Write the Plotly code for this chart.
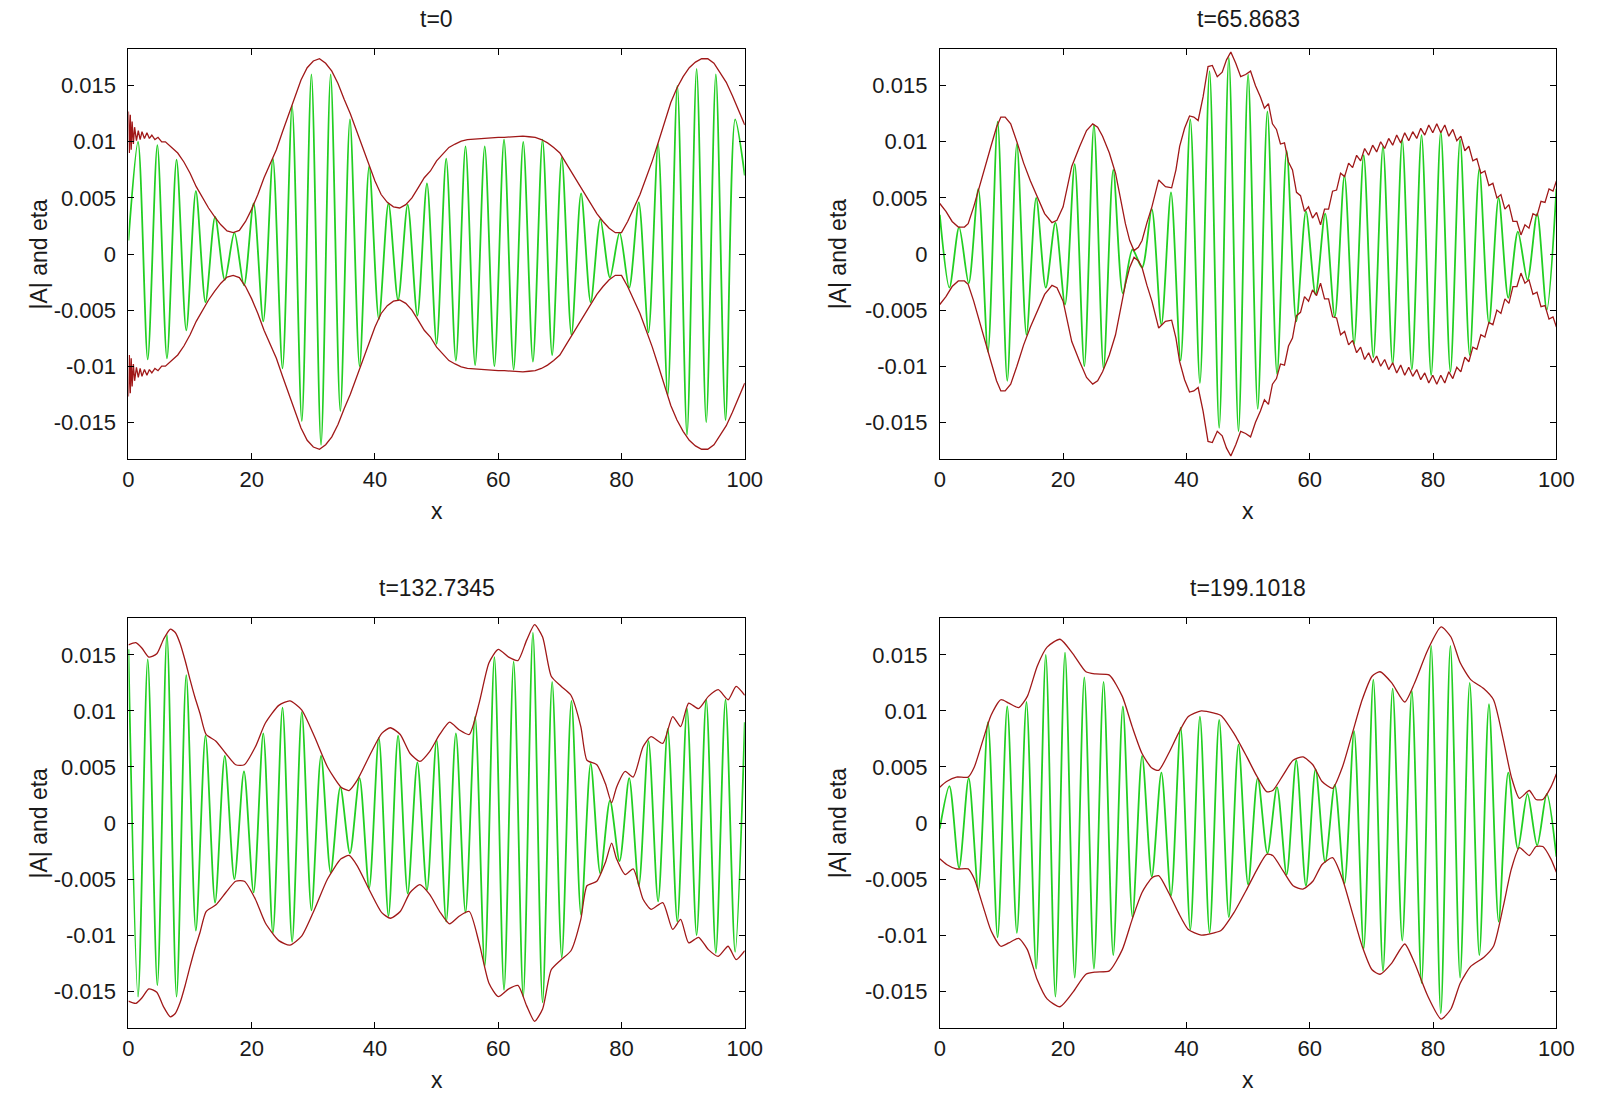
import numpy as np
import plotly.graph_objects as go

# ---- panel titles and tick labels ----
titles = ["t=0", "t=65.8683", "t=132.7345", "t=199.1018"]
x_ticks = [0, 20, 40, 60, 80, 100]
y_ticks = [0.015, 0.01, 0.005, 0, -0.005, -0.01, -0.015]
y_tick_text = ["0.015", "0.01", "0.005", "0", "-0.005", "-0.01", "-0.015"]

# ---- eta: crest / trough positions of the carrier and their heights (x 1e-3) ----
crest_x = [0, 1.56, 3.13, 4.69, 6.25, 7.81, 9.38, 10.94, 12.5, 14.06, 15.63, 17.19, 18.75,
           20.31, 21.88, 23.44, 25, 26.56, 28.13, 29.69, 31.25, 32.81, 34.38, 35.94, 37.5,
           39.06, 40.63, 42.19, 43.75, 45.31, 46.88, 48.44, 50, 51.56, 53.13, 54.69, 56.25,
           57.81, 59.38, 60.94, 62.5, 64.06, 65.63, 67.19, 68.75, 70.31, 71.88, 73.44, 75,
           76.56, 78.13, 79.69, 81.25, 82.81, 84.38, 85.94, 87.5, 89.06, 90.63, 92.19, 93.75,
           95.31, 96.88, 98.44, 100]

eta_t0 = [1.2, 10.0, -9.4, 9.7, -9.3, 8.4, -6.8, 5.6, -4.3, 3.3, -2.3, 1.9, -2.8, 4.5, -6.0,
          8.5, -10.2, 13.2, -14.9, 16.0, -17.0, 16.0, -14.0, 12.0, -10.0, 7.8, -5.8, 4.5, -4.1,
          4.4, -5.5, 6.3, -8.0, 8.5, -9.5, 9.6, -9.9, 9.6, -10.0, 10.2, -10.3, 10.0, -9.6, 10.2,
          -9.0, 8.6, -7.2, 5.4, -4.3, 3.1, -2.1, 1.9, -3.0, 4.6, -7.0, 9.8, -12.6, 15.0, -16.1,
          16.5, -15.0, 16.0, -14.8, 12.0, 7.0]

eta_t65 = [3.5, -3.0, 2.4, -2.6, 5.8, -8.7, 11.8, -11.3, 9.8, -7.2, 5.0, -3.0, 2.8, -4.5, 8.0,
           -10.0, 11.5, -10.2, 7.5, -3.5, 0.4, -1.2, 4.0, -6.3, 5.5, -9.5, 12.0, -11.5, 16.3,
           -15.5, 17.5, -15.8, 16.0, -13.8, 12.7, -10.7, 9.2, -6.0, 3.8, -3.6, 3.6, -5.6, 7.0,
           -8.0, 8.8, -9.2, 9.6, -9.8, 10.2, -10.3, 10.6, -10.8, 10.9, -10.5, 10.2, -9.0, 7.6,
           -6.2, 5.0, -3.9, 2.0, -2.3, 3.6, -5.0, 5.8]

eta_t132 = [15.5, -15.5, 14.6, -14.5, 16.8, -15.5, 13.2, -9.6, 7.8, -7.1, 6.0, -5.0, 4.6, -6.2,
            8.0, -9.8, 10.3, -10.6, 9.9, -7.8, 6.0, -4.4, 3.2, -2.7, 4.0, -5.8, 7.6, -8.3, 7.8,
            -6.3, 5.4, -6.0, 7.4, -8.8, 8.0, -8.0, 9.5, -12.8, 14.8, -14.9, 14.4, -15.5, 17.0,
            -16.0, 12.6, -12.0, 10.9, -8.2, 5.3, -4.5, 2.0, -3.4, 4.0, -5.6, 7.3, -7.0, 8.4,
            -8.8, 10.2, -10.0, 11.0, -11.6, 11.0, -11.5, 9.0]

eta_t199 = [-0.5, 3.3, -4.0, 4.0, -6.0, 9.0, -10.2, 10.4, -9.8, 10.8, -13.0, 15.0, -15.5, 15.2,
            -13.8, 13.0, -13.0, 12.6, -11.8, 10.4, -8.4, 6.0, -4.8, 4.5, -6.5, 8.5, -9.5, 9.5,
            -9.8, 9.2, -8.4, 7.0, -5.5, 4.0, -2.7, 3.2, -4.6, 5.6, -5.6, 4.8, -3.5, 3.4, -5.4,
            8.2, -11.2, 12.8, -13.2, 12.0, -10.5, 11.8, -14.3, 15.8, -17.0, 15.8, -13.8, 12.5,
            -11.8, 10.6, -8.8, 4.5, -2.3, 2.6, -2.0, 2.6, -3.0]

# ---- |A|: envelope samples (x 1e-3) ----
amp_t0_x = [0, 0.15, 0.3, 0.45, 0.6, 0.8, 1.0, 1.3, 1.6, 1.9, 2.2, 2.6, 3.0, 3.4, 3.8, 4.3, 4.8,
            5.4, 6, 7, 8, 9, 10, 11, 12, 13, 14, 15, 16, 17, 18, 19, 20, 21, 22, 23, 24, 25, 26,
            27, 28, 29, 30, 31, 32, 33, 34, 35, 36, 37, 38, 39, 40, 41, 42, 43, 44, 45, 46, 47,
            48, 49, 50, 51, 52, 53, 54, 55, 56, 57, 58, 59, 60, 61, 62, 63, 64, 65, 66, 67, 68,
            69, 70, 71, 72, 73, 74, 75, 76, 77, 78, 79, 80, 81, 82, 83, 84, 85, 86, 87, 88, 89,
            90, 91, 92, 93, 94, 95, 96, 97, 98, 99, 100]
amp_t0 = [12.7, 9.0, 12.4, 9.3, 11.8, 9.8, 11.3, 10.1, 11.0, 10.2, 10.9, 10.3, 10.8, 10.3, 10.6,
          10.2, 10.4, 10.0, 10.0, 9.5, 9.0, 8.2, 7.2, 6.0, 5.0, 4.1, 3.3, 2.6, 2.05, 1.9, 2.1,
          2.9, 4.0, 5.3, 6.8, 8.0, 9.3, 10.9, 12.5, 14.0, 15.5, 16.6, 17.2, 17.4, 17.0, 16.3,
          15.2, 13.8, 12.5, 11.0, 9.5, 8.0, 6.5, 5.3, 4.6, 4.2, 4.1, 4.4, 5.0, 5.9, 6.8, 7.4,
          8.3, 8.9, 9.5, 9.8, 10.05, 10.2, 10.25, 10.3, 10.3, 10.35, 10.4, 10.4, 10.45, 10.5,
          10.5, 10.45, 10.4, 10.2, 9.9, 9.5, 9.0, 8.1, 7.2, 6.4, 5.5, 4.6, 3.6, 2.9, 2.3, 1.9,
          1.9, 2.9, 4.1, 5.3, 6.8, 8.3, 10.0, 11.8, 13.5, 14.8, 15.8, 16.6, 17.1, 17.4, 17.4,
          17.0, 16.2, 15.3, 14.1, 12.8, 11.5]

amp_t65_x = [0, 1, 2, 3, 4, 4.6, 5.5, 6.3, 7, 8.3, 9.2, 9.9, 10.6, 11.5, 12.5, 13.6, 14.7, 15.8,
             17, 18.2, 19, 20, 21.4, 22.7, 23.8, 24.8, 25.6, 26.4, 27.5, 28.5, 29.3, 30.1, 30.8,
             31.5, 32.2, 32.8, 33.6, 34.4, 35.5, 36.6, 37.6, 38.3, 38.9, 39.7, 40.5, 41.2, 41.9,
             42.7, 43.5, 44.2, 45, 45.8, 46.5, 47.2, 48, 48.8, 49.6, 50.4, 51.2,
             52.0, 52.65, 53.3, 53.95, 54.6, 55.25, 55.9, 56.55, 57.2, 57.85, 58.5, 59.15, 59.8,
             60.45, 61.1, 61.75, 62.4, 63.05, 63.7, 64.35, 65.0, 65.65, 66.3, 66.95, 67.6, 68.25,
             68.9, 69.55, 70.2, 70.85, 71.5, 72.15, 72.8, 73.45, 74.1, 74.75, 75.4, 76.05, 76.7,
             77.35, 78.0, 78.65, 79.3, 79.95, 80.6, 81.25, 81.9, 82.55, 83.2, 83.85, 84.5, 85.15,
             85.8, 86.45, 87.1, 87.75, 88.4, 89.05, 89.7, 90.35, 91.0, 91.65, 92.3, 92.95, 93.6,
             94.25, 94.9, 95.55, 96.2, 96.85, 97.5, 98.15, 98.8, 99.45, 100]
amp_t65 = [4.5, 3.8, 2.9, 2.4, 2.4, 2.7, 4.2, 5.8, 7.2, 9.6, 11.3, 12.2, 12.2, 11.6, 10.0, 8.1,
           6.5, 5.1, 3.6, 2.8, 3.0, 4.2, 7.8, 9.6, 11.0, 11.6, 11.3, 10.5, 9.0, 7.2, 5.0, 2.7,
           1.2, 0.3, 0.6, 1.2, 2.8, 4.2, 6.6, 6.0, 5.9, 7.5, 9.6, 11.2, 12.3, 12.2, 11.9, 14.0,
           16.7, 16.8, 15.8, 16.2, 17.3, 18.0, 17.0, 15.8, 16.0, 16.3, 15.0,
           14.0, 13.0, 13.4, 11.6, 11.1, 9.8, 9.9, 8.2, 7.5, 5.5, 5.2, 3.8, 4.2, 3.2, 3.7, 2.6,
           4.0, 4.0, 5.6, 5.7, 7.2, 6.9, 8.1, 7.7, 8.8, 8.3, 9.4, 8.8, 9.7, 9.1, 10.0, 9.4, 10.3,
           9.7, 10.6, 9.9, 10.8, 10.1, 10.9, 10.3, 11.2, 10.6, 11.5, 10.8, 11.6, 10.8, 11.5, 10.5,
           11.1, 10.1, 10.5, 9.2, 9.6, 8.3, 8.5, 7.2, 7.4, 6.1, 6.3, 5.0, 5.3, 4.0, 4.4, 2.9, 2.9,
           1.7, 2.6, 2.3, 3.6, 3.4, 4.7, 4.6, 5.8, 5.6, 6.5]

amp_t132_x = [0, 1.2, 2.2, 3.3, 4.6, 5.7, 6.8, 7.6, 8.4, 9.2, 10, 10.8, 11.6, 12.6, 14.2, 15.8,
              17.4, 18.8, 20.6, 22.2, 24.4, 26.2, 28.1, 30.2, 32.3, 34.5, 35.8, 37.1, 39.3, 41.1,
              42.5, 44.1, 45.7, 47.3, 48.9, 50.5, 52.1, 53.7, 55.3, 56.9, 58.5, 60, 61.7, 63.2,
              64.6, 65.9, 67.2, 68.6, 70.2, 71.8, 73.4, 74.4, 76, 77.4, 78.4, 79.2, 80.6, 81.9,
              83.5, 84.8, 86.7, 88.3, 89.6, 90.9, 92.5, 94.1, 95.7, 97.3, 98.6, 100]
amp_t132 = [15.9, 16.1, 15.6, 14.8, 15.1, 16.4, 17.3, 17.0, 16.0, 14.5, 12.8, 11.2, 9.8, 7.9, 7.3,
            6.2, 5.2, 5.2, 6.8, 8.9, 10.5, 10.9, 10.1, 7.7, 5.0, 3.2, 2.9, 3.8, 6.2, 8.0, 8.5,
            7.9, 6.2, 5.5, 6.4, 7.9, 9.0, 8.3, 7.9, 10.7, 14.3, 15.5, 14.8, 14.5, 16.3, 17.7,
            16.6, 13.1, 12.2, 11.4, 8.6, 5.6, 5.2, 3.5, 1.8, 3.2, 4.6, 4.1, 6.8, 7.7, 7.1, 9.5,
            8.6, 10.7, 10.2, 11.3, 11.9, 11.0, 12.2, 11.4]

amp_t199_x = [0, 1.1, 2.7, 4.6, 5.6, 7, 8.3, 9.9, 11.2, 12.8, 14.2, 15.8, 17.4, 19.5, 21.6, 23.7,
              25.3, 27.5, 29.6, 31.2, 32.8, 34.4, 35.5, 37.1, 38.7, 40.3, 42.4, 44.5, 45.6, 47.7,
              49.8, 51.4, 53, 54, 55.7, 57.3, 58.9, 60.5, 62, 63.7, 65.3, 66.9, 68.5, 70.1, 71.4,
              73.3, 75.4, 77, 79.1, 81.3, 82.9, 84.4, 86.1, 88.2, 89.8, 91.4, 92.7, 94, 95.6,
              96.7, 97.8, 99.1, 100]
amp_t199 = [3.2, 3.7, 4.1, 4.1, 5.0, 7.4, 9.6, 11.0, 10.7, 10.3, 11.3, 14.0, 15.7, 16.4, 15.1,
            13.5, 13.3, 13.2, 11.3, 8.6, 6.2, 4.9, 4.7, 6.2, 8.0, 9.5, 10.0, 9.8, 9.6, 8.0, 5.9,
            4.2, 2.8, 2.9, 4.3, 5.6, 5.9, 5.2, 3.7, 3.1, 5.0, 8.0, 11.0, 13.1, 13.5, 12.5, 10.8,
            12.5, 15.4, 17.5, 16.6, 14.3, 12.8, 12.0, 11.0, 7.4, 4.1, 2.2, 2.9, 2.1, 2.1, 3.2,
            4.4]

MILLI = 1e-3
panels = [
    (eta_t0, amp_t0_x, amp_t0, "linear"),
    (eta_t65, amp_t65_x, amp_t65, "linear"),
    (eta_t132, amp_t132_x, amp_t132, "spline"),
    (eta_t199, amp_t199_x, amp_t199, "spline"),
]

# ---- page geometry (pixels of a 1601 x 1094 page) ----
W, H = 1601, 1094
boxes = [(124.3, 750.0, 49.0, 459.0), (948.0, 1574.0, 49.0, 459.0),
         (124.3, 750.0, 618.3, 1027.7), (948.0, 1574.0, 618.3, 1027.7)]
Y_LIM = 0.01827

GREEN = "#22cf22"
RED = "#a01818"
FONT = "Liberation Sans, Arial, sans-serif"
TXT = "#1a1a1a"

fig = go.Figure()
layout = dict(width=W, height=H, margin=dict(l=0, r=0, t=0, b=0),
              paper_bgcolor="white", plot_bgcolor="white", showlegend=False)
annotations = []

for i, ((eta, ax_x, amp, shape), (x0, x1, y0, y1)) in enumerate(zip(panels, boxes)):
    n = "" if i == 0 else str(i + 1)
    xa, ya = "x" + n, "y" + n
    eta_v = np.array(eta) * MILLI
    amp_v = np.array(amp) * MILLI

    fig.add_trace(go.Scatter(x=crest_x, y=eta_v, mode="lines", xaxis=xa, yaxis=ya,
                             line=dict(color=GREEN, width=1.8, shape="spline", smoothing=0.8),
                             hoverinfo="skip"))
    for sgn in (1, -1):
        fig.add_trace(go.Scatter(x=ax_x, y=sgn * amp_v, mode="lines", xaxis=xa, yaxis=ya,
                                 line=dict(color=RED, width=1.3, shape=shape, smoothing=0.6),
                                 hoverinfo="skip"))

    axis_common = dict(showline=True, linecolor="black", linewidth=1, mirror="ticks",
                       ticks="inside", ticklen=6, tickcolor="black", tickwidth=1,
                       showgrid=False, zeroline=False,
                       tickfont=dict(family=FONT, size=22, color=TXT))
    layout["xaxis" + n] = dict(axis_common, domain=[x0 / W, x1 / W], range=[0, 100],
                               anchor=ya, tickvals=x_ticks, ticklabelstandoff=1)
    layout["yaxis" + n] = dict(axis_common, domain=[1 - y1 / H, 1 - y0 / H],
                               range=[-Y_LIM, Y_LIM], anchor=xa, tickvals=y_ticks,
                               ticktext=y_tick_text, ticklabelstandoff=7)

    cx = (x0 + x1) / 2
    cy = (y0 + y1) / 2
    annotations.append(dict(text=titles[i], x=cx / W, y=1 - (y0 - 30) / H, xref="paper",
                            yref="paper", showarrow=False, xanchor="center", yanchor="middle",
                            font=dict(family=FONT, size=23, color=TXT)))
    annotations.append(dict(text="x", x=cx / W, y=1 - (y1 + 52) / H, xref="paper",
                            yref="paper", showarrow=False, xanchor="center", yanchor="middle",
                            font=dict(family=FONT, size=23, color=TXT)))
    ylab_x = 33 if x0 < 500 else 845
    annotations.append(dict(text="|A| and eta", x=ylab_x / W, y=1 - cy / H, xref="paper",
                            yref="paper", showarrow=False, xanchor="center", yanchor="middle",
                            textangle=-90, font=dict(family=FONT, size=23, color=TXT)))

layout["annotations"] = annotations
fig.update_layout(**layout)
fig.write_html("out.html")
